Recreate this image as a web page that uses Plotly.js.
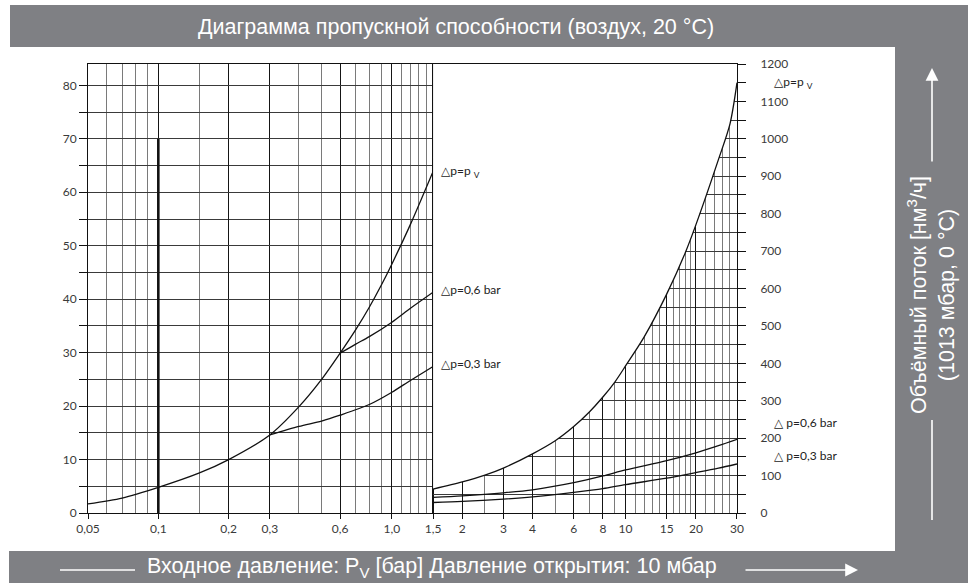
<!DOCTYPE html>
<html>
<head>
<meta charset="utf-8">
<script src="https://cdn.plot.ly/plotly-3.0.1.min.js"></script>
<style>html,body{margin:0;padding:0;background:#fff;}#chart{width:968px;height:583px;}</style>
</head>
<body>
<div id="chart"></div>
<script>
// ---------------- data ----------------
// left panel (inlet pressure 0,05 .. 1,5 bar, flow 0 .. 84 Nm3/h)
const pvLeftX   = [0.05, 0.07, 0.1, 0.15, 0.2, 0.3, 0.4, 0.5, 0.6, 0.7, 0.8, 0.9, 1.0, 1.2, 1.5];
const pvLeftY   = [1.7, 2.8, 4.8, 7.5, 10.0, 14.6, 19.9, 25.0, 29.9, 34.3, 38.5, 42.6, 46.6, 54.0, 63.9];
const dp06LeftX = [0.6, 0.7, 0.8, 1.0, 1.2, 1.5];
const dp06LeftY = [29.9, 31.6, 33.0, 35.7, 38.3, 41.3];
const dp03LeftX = [0.3, 0.4, 0.5, 0.6, 0.8, 1.0, 1.2, 1.5];
const dp03LeftY = [14.6, 16.2, 17.2, 18.3, 20.3, 22.6, 24.8, 27.4];
// right panel (inlet pressure 1,5 .. 30 bar, flow 0 .. 1200 Nm3/h)
const pvRightX   = [1.5, 2, 2.5, 3, 4, 5, 6, 7, 8, 9, 10, 12, 15, 18, 20, 25, 28, 30];
const pvRightY   = [64, 83, 101, 120, 158, 193, 231, 270, 310, 350, 393, 470, 585, 695, 770, 945, 1040, 1150];
const dp06RightX = [1.5, 2, 3, 4, 6, 8, 10, 15, 20, 25, 30];
const dp06RightY = [42, 46, 54, 62, 81, 99, 115, 140, 161, 180, 197];
const dp03RightX = [1.5, 2, 3, 4, 6, 8, 10, 15, 20, 25, 30];
const dp03RightY = [28, 31, 37, 43, 55, 65, 76, 93, 108, 120, 131];
// vertical reference line at 0,1 bar
const refLineX = [0.1, 0.1];
const refLineY = [0, 70];

// axes / ticks
const xLeftRange  = [0.05, 1.5];
const xRightRange = [1.5, 30];
const yLeftMax  = 84;
const yRightMax = 1200;
const xLeftTicks   = [0.05, 0.1, 0.2, 0.3, 0.6, 1.0, 1.5];
const xLeftLabels  = ['0,05', '0,1', '0,2', '0,3', '0,6', '1,0', '1,5'];
const xLeftMinor   = [0.06, 0.07, 0.08, 0.09, 0.15, 0.4, 0.5, 0.7, 0.8, 0.9, 1.1, 1.2, 1.3, 1.4];
const xRightTicks  = [2, 3, 4, 6, 8, 10, 15, 20, 30];
const xRightLabels = ['2', '3', '4', '6', '8', '10', '15', '20', '30'];
const xRightMinor  = [2.5, 5, 7, 9, 11, 12, 13, 14, 16, 17, 18, 19, 22, 24, 26, 28];
const yLeftStep = 10, yLeftGrid = 5, yLeftFine = 1;
const yRightStep = 100, yRightGrid = 50, yRightFine = 10;

const curveLabelsLeft  = ['△p=p <sub>V</sub>', '△p=0,6 bar', '△p=0,3 bar'];
const curveLabelsRight = ['△p=p <sub>V</sub>', '△ p=0,6 bar', '△ p=0,3 bar'];
const titleText  = 'Диаграмма пропускной способности (воздух, 20 °C)';
const xTitleText = 'Входное давление: P<sub>V</sub> [бар] Давление открытия: 10 мбар';
const yTitleText = 'Объёмный поток [нм<sup>3</sup>/ч]<br>(1013 мбар, 0 °C)';

// ---------------- layout geometry ----------------
const W = 968, H = 583;
const M = {l: 88, r: 231, t: 64, b: 70};
const PW = W - M.l - M.r, PH = H - M.t - M.b;
const px = v => (v - M.l) / PW;          // pixel -> paper x
const py = v => (H - M.b - v) / PH;      // pixel -> paper y
const GRAY = '#7f8084';
const TICKFONT = {family: 'Lato, "DejaVu Sans", sans-serif', size: 12, color: '#3a3a3a'};
const LBLFONT  = {family: 'Lato, "DejaVu Sans", sans-serif', size: 12, color: '#222'};
const BANDFONT = {family: '"Liberation Sans", Arial, sans-serif', size: 21.5, color: '#ffffff'};

const lg = Math.log10;
const split = (lg(xLeftRange[1]) - lg(xLeftRange[0])) / (lg(xRightRange[1]) - lg(xLeftRange[0]));

const last = a => a[a.length - 1];
const SPL = {shape: 'spline', smoothing: 0.8};
const line = (x, y, xa, ya, w, straight) => ({x, y, xaxis: xa, yaxis: ya, mode: 'lines', type: 'scatter',
  line: Object.assign({color: '#111', width: w || 1.3}, straight ? {} : SPL), hoverinfo: 'skip', showlegend: false});

const traces = [
  line(refLineX, refLineY, 'x', 'y', 2.6, true),
  line(pvLeftX, pvLeftY, 'x', 'y'),
  line(dp06LeftX, dp06LeftY, 'x', 'y'),
  line(dp03LeftX, dp03LeftY, 'x', 'y'),
  // white mask above the right p_v curve (grid only drawn below the curve)
  {x: pvRightX, y: pvRightY, xaxis: 'x2', yaxis: 'y2', mode: 'lines', type: 'scatter',
   line: Object.assign({width: 0, color: 'rgba(0,0,0,0)'}, SPL), hoverinfo: 'skip', showlegend: false},
  {x: pvRightX, y: pvRightX.map(() => yRightMax), xaxis: 'x2', yaxis: 'y2', mode: 'lines', type: 'scatter',
   fill: 'tonexty', fillcolor: '#ffffff', line: {width: 0, color: 'rgba(0,0,0,0)'}, hoverinfo: 'skip', showlegend: false},
  line(pvRightX, pvRightY, 'x2', 'y2'),
  line(dp06RightX, dp06RightY, 'x2', 'y2'),
  line(dp03RightX, dp03RightY, 'x2', 'y2')
];

const eps = 1e-7;
const xBase = {
  type: 'log', showline: true, linecolor: '#111', linewidth: 1, mirror: true,
  tickmode: 'array', ticks: 'outside', ticklen: 5, tickcolor: '#111', tickfont: TICKFONT,
  showgrid: true, gridcolor: '#151515', gridwidth: 1, zeroline: false, fixedrange: true
};
const yBase = {
  domain: [0, 1], showline: true, linecolor: '#111', mirror: true,
  tickmode: 'linear', tick0: 0, ticks: 'outside', ticklen: 8, tickcolor: '#111', tickfont: TICKFONT,
  showgrid: true, gridcolor: '#3a3a3a', gridwidth: 1, zeroline: false, fixedrange: true
};
const yFine = {
  domain: [0, 1], showline: false, showgrid: false, zeroline: false, showticklabels: false,
  tickmode: 'linear', tick0: 0, ticks: 'outside', ticklen: 4, tickcolor: '#333', fixedrange: true
};
const layout = {
  width: W, height: H, margin: M, paper_bgcolor: '#ffffff', plot_bgcolor: 'rgba(0,0,0,0)',
  showlegend: false,
  xaxis: Object.assign({}, xBase, {
    domain: [0, split], anchor: 'y',
    range: [lg(xLeftRange[0]) - eps, lg(xLeftRange[1]) + eps],
    tickvals: xLeftTicks, ticktext: xLeftLabels,
    minor: {tickmode: 'array', tickvals: xLeftMinor, showgrid: true, gridcolor: '#7a7a7a', gridwidth: 1, ticks: ''}
  }),
  xaxis2: Object.assign({}, xBase, {
    domain: [split, 1], anchor: 'y2',
    range: [lg(xRightRange[0]) + eps, lg(xRightRange[1]) + eps],
    tickvals: xRightTicks, ticktext: xRightLabels,
    minor: {tickmode: 'array', tickvals: xRightMinor, showgrid: true, gridcolor: '#7a7a7a', gridwidth: 1, ticks: ''}
  }),
  yaxis: Object.assign({}, yBase, {
    anchor: 'x', range: [0, yLeftMax], dtick: yLeftStep,
    minor: {dtick: yLeftGrid, ticks: 'outside', ticklen: 8, tickcolor: '#111', showgrid: true, gridcolor: '#3a3a3a', gridwidth: 1}
  }),
  yaxis3: Object.assign({}, yFine, {overlaying: 'y', anchor: 'x', side: 'left', range: [0, yLeftMax], dtick: yLeftFine}),
  yaxis2: Object.assign({}, yBase, {
    anchor: 'x2', side: 'right', range: [0, yRightMax], dtick: yRightStep, ticklabelstandoff: 12,
    minor: {dtick: yRightGrid, ticks: 'outside', ticklen: 8, tickcolor: '#111', showgrid: true, gridcolor: '#3a3a3a', gridwidth: 1}
  }),
  yaxis4: Object.assign({}, yFine, {overlaying: 'y2', anchor: 'x2', side: 'right', range: [0, yRightMax], dtick: yRightFine}),
  shapes: [
    {type: 'rect', xref: 'paper', yref: 'paper', x0: px(10), x1: px(W), y0: py(5), y1: py(47), fillcolor: GRAY, line: {width: 0}, layer: 'below'},
    {type: 'rect', xref: 'paper', yref: 'paper', x0: px(895), x1: px(W), y0: py(47), y1: py(551), fillcolor: GRAY, line: {width: 0}, layer: 'below'},
    {type: 'rect', xref: 'paper', yref: 'paper', x0: px(9), x1: px(W), y0: py(551), y1: py(H), fillcolor: GRAY, line: {width: 0}, layer: 'below'},
    {type: 'line', xref: 'paper', yref: 'paper', x0: px(60), x1: px(135), y0: py(570), y1: py(570), line: {color: '#fff', width: 1.6}},
    {type: 'line', xref: 'paper', yref: 'paper', x0: px(932), x1: px(932), y0: py(420), y1: py(520), line: {color: '#fff', width: 1.6}}
  ],
  annotations: [
    {xref: 'paper', yref: 'paper', x: px(456), y: py(27), text: titleText, showarrow: false, font: BANDFONT, xanchor: 'center', yanchor: 'middle'},
    {xref: 'paper', yref: 'paper', x: px(432), y: py(567), text: xTitleText, showarrow: false, font: BANDFONT, xanchor: 'center', yanchor: 'middle'},
    {xref: 'paper', yref: 'paper', x: px(931), y: py(295), text: yTitleText, showarrow: false, font: BANDFONT, textangle: -90, xanchor: 'center', yanchor: 'middle'},
    {xref: 'paper', yref: 'paper', x: px(858), y: py(570), ax: -114, ay: 0, text: '', showarrow: true, arrowhead: 2, arrowsize: 1.6, arrowwidth: 1.6, arrowcolor: '#fff'},
    {xref: 'paper', yref: 'paper', x: px(932), y: py(68), ax: 0, ay: 95, text: '', showarrow: true, arrowhead: 2, arrowsize: 1.6, arrowwidth: 1.6, arrowcolor: '#fff'},
    // curve labels, left panel
    {xref: 'x', yref: 'y', x: lg(last(pvLeftX)), y: last(pvLeftY), text: curveLabelsLeft[0], showarrow: false, xanchor: 'left', xshift: 6, yshift: 0, font: LBLFONT},
    {xref: 'x', yref: 'y', x: lg(last(dp06LeftX)), y: last(dp06LeftY), text: curveLabelsLeft[1], showarrow: false, xanchor: 'left', xshift: 6, yshift: 3, font: LBLFONT},
    {xref: 'x', yref: 'y', x: lg(last(dp03LeftX)), y: last(dp03LeftY), text: curveLabelsLeft[2], showarrow: false, xanchor: 'left', xshift: 6, yshift: 3, font: LBLFONT},
    // curve labels, right panel
    {xref: 'x2', yref: 'y2', x: lg(last(pvRightX)), y: last(pvRightY), text: curveLabelsRight[0], showarrow: false, xanchor: 'left', xshift: 35, yshift: 0, font: LBLFONT},
    {xref: 'x2', yref: 'y2', x: lg(last(dp06RightX)), y: last(dp06RightY), text: curveLabelsRight[1], showarrow: false, xanchor: 'left', xshift: 35, yshift: 17, font: LBLFONT},
    {xref: 'x2', yref: 'y2', x: lg(last(dp03RightX)), y: last(dp03RightY), text: curveLabelsRight[2], showarrow: false, xanchor: 'left', xshift: 35, yshift: 8, font: LBLFONT}
  ]
};

Plotly.newPlot('chart', traces, layout, {staticPlot: true, displayModeBar: false});
</script>
</body>
</html>
